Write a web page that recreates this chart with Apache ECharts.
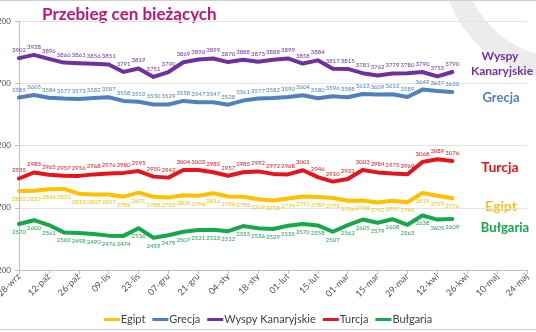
<!DOCTYPE html>
<html>
<head>
<meta charset="utf-8">
<script src="https://cdn.jsdelivr.net/npm/echarts@6/dist/echarts.min.js"></script>
<style>
html,body{margin:0;padding:0;background:#fff}
#c{width:536px;height:332px}
</style>
</head>
<body>
<div id="c"></div>
<script>
// Weekly price points (PLN), one per week from 28-wrz
const weeks = ['28-wrz','05-paź','12-paź','19-paź','26-paź','02-lis','09-lis','16-lis','23-lis','30-lis',
  '07-gru','14-gru','21-gru','28-gru','04-sty','11-sty','18-sty','25-sty','01-lut','08-lut',
  '15-lut','22-lut','01-mar','08-mar','15-mar','22-mar','29-mar','05-kwi','12-kwi','19-kwi',
  '26-kwi','03-maj','10-maj','17-maj','24-maj'];

const egipt = [2835,2837,2848,2851,2813,2807,2807,2789,2821,2788,2782,2800,2796,2816,2790,2788,2769,2758,2774,2791,2787,2778,2756,2758,2742,2757,2745,2819,2797,2776];
const grecja = [3585,3605,3584,3577,3573,3582,3587,3558,3552,3530,3529,3558,3547,3547,3528,3561,3577,3582,3590,3604,3580,3596,3588,3613,3609,3612,3589,3649,3637,3630];
const wyspy = [3902,3928,3896,3866,3861,3856,3851,3791,3819,3751,3790,3869,3890,3899,3870,3888,3873,3888,3899,3858,3884,3817,3815,3781,3762,3779,3780,3790,3755,3790];
const turcja = [2935,2983,2965,2957,2956,2968,2976,2980,2995,2950,2942,3004,3003,2985,2957,2985,2992,2972,2968,3001,2946,2910,2931,3003,2984,2975,2969,3068,3089,3076];
const bulgaria = [2570,2600,2561,2502,2498,2490,2476,2474,2536,2459,2479,2507,2521,2523,2512,2553,2536,2529,2555,2570,2558,2507,2561,2605,2579,2608,2563,2638,2605,2609];

const yTicks = [2200, 2700, 3200, 3700, 4200];

const FONT = 'Lato, "Open Sans", sans-serif';
const colors = {
  egipt: '#FFC000',
  grecja: '#4F81BD',
  wyspy: '#7030A0',
  turcja: '#E8141B',
  bulgaria: '#16A84A'
};

function lineSeries(name, data, color, labelPos) {
  return {
    name: name,
    type: 'line',
    data: data,
    showSymbol: true,
    symbol: 'circle',
    symbolSize: 2,
    lineStyle: { color: color, width: 4, cap: 'round', join: 'round' },
    itemStyle: { color: color },
    label: {
      show: true,
      position: labelPos,
      distance: 4,
      fontSize: 6,
      fontFamily: FONT,
      color: color
    },
    labelLayout: { hideOverlap: false },
    emphasis: { disabled: true },
    animation: false
  };
}

const chart = echarts.init(document.getElementById('c'));
chart.setOption({
  animation: false,
  backgroundColor: '#fff',
  textStyle: { fontFamily: FONT },
  grid: { left: 19, right: 9, top: 21, bottom: 62, containLabel: false, outerBoundsMode: 'none' },
  xAxis: {
    type: 'category',
    data: weeks,
    boundaryGap: false,
    axisLine: { lineStyle: { color: '#bfbfbf', width: 1 } },
    axisTick: { show: true, interval: 1, length: 4, lineStyle: { color: '#bfbfbf' } },
    axisLabel: { interval: 1, rotate: 45, fontSize: 9, color: '#505050', margin: 5, fontFamily: FONT },
    splitLine: { show: false }
  },
  yAxis: {
    type: 'value',
    min: yTicks[0],
    max: yTicks[yTicks.length - 1],
    interval: yTicks[1] - yTicks[0],
    axisLine: { show: true, lineStyle: { color: '#bfbfbf' } },
    axisTick: { show: true, length: 4, lineStyle: { color: '#bfbfbf' } },
    axisLabel: { fontSize: 8, color: '#505050', margin: 8, fontFamily: FONT, formatter: v => String(v) },
    splitLine: { show: true, lineStyle: { color: '#e4e4e4', width: 1 } }
  },
  legend: {
    data: ['Egipt', 'Grecja', 'Wyspy Kanaryjskie', 'Turcja', 'Bułgaria'],
    left: 'center',
    top: 309,
    icon: 'rect',
    itemWidth: 16,
    itemHeight: 3,
    itemGap: 7,
    textStyle: { fontSize: 11, color: '#404040', fontFamily: FONT, padding: [0, 0, 0, -4] }
  },
  graphic: [
    { type: 'ring', silent: true, z: -10, shape: { cx: 565, cy: -45, r: 125, r0: 103 }, style: { fill: '#ececec' } },
    { type: 'line', silent: true, shape: { x1: 0, y1: 0.5, x2: 536, y2: 0.5 }, style: { stroke: '#cfcfcf', lineWidth: 1 } },
    { type: 'line', silent: true, shape: { x1: 0, y1: 329.5, x2: 536, y2: 329.5 }, style: { stroke: '#cfcfcf', lineWidth: 1 } },
    { type: 'text', left: 42, top: 6, style: { text: 'Przebieg cen bieżących', font: 'bold 17px ' + FONT, fill: '#C2157A' } },
    { type: 'text', x: 500, y: 56, style: { text: 'Wyspy', font: 'bold 12px ' + FONT, fill: colors.wyspy, align: 'center', verticalAlign: 'middle' } },
    { type: 'text', x: 502, y: 71, style: { text: 'Kanaryjskie', font: 'bold 12px ' + FONT, fill: colors.wyspy, align: 'center', verticalAlign: 'middle' } },
    { type: 'text', x: 501, y: 98, style: { text: 'Grecja', font: 'bold 13px ' + FONT, fill: colors.grecja, align: 'center', verticalAlign: 'middle' } },
    { type: 'text', x: 500, y: 167, style: { text: 'Turcja', font: 'bold 14px ' + FONT, fill: colors.turcja, align: 'center', verticalAlign: 'middle' } },
    { type: 'text', x: 501, y: 206, style: { text: 'Egipt', font: 'bold 14px ' + FONT, fill: '#F5C22B', align: 'center', verticalAlign: 'middle' } },
    { type: 'text', x: 505, y: 228, style: { text: 'Bułgaria', font: 'bold 13px ' + FONT, fill: colors.bulgaria, align: 'center', verticalAlign: 'middle' } }
  ],
  series: [
    lineSeries('Egipt', egipt, colors.egipt, 'bottom'),
    lineSeries('Grecja', grecja, colors.grecja, 'top'),
    lineSeries('Wyspy Kanaryjskie', wyspy, colors.wyspy, 'top'),
    lineSeries('Turcja', turcja, colors.turcja, 'top'),
    lineSeries('Bułgaria', bulgaria, colors.bulgaria, 'bottom')
  ]
});
</script>
</body>
</html>
